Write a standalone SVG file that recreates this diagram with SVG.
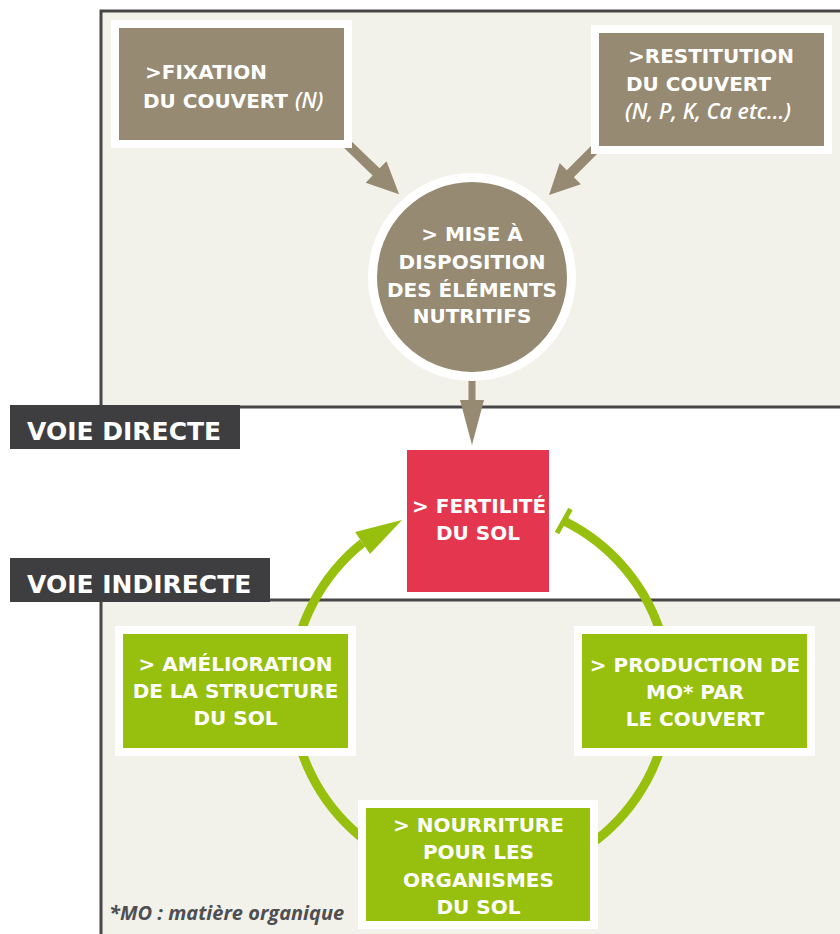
<svg xmlns="http://www.w3.org/2000/svg" width="840" height="934" viewBox="0 0 840 934">
<defs>
<style>
.panel{fill:#f2f1ea;stroke:#474747;stroke-width:3}
.lbl{fill:#3e3e40}
.lbltxt{font-family:"DejaVu Sans",sans-serif;font-weight:bold;font-size:25px;fill:#fff}
.t{font-family:"DejaVu Sans",sans-serif;font-weight:bold;font-size:20px;fill:#fff}
.c{text-anchor:middle}
.it{font-family:"Open Sans","Noto Sans",sans-serif;font-style:italic;font-weight:600;fill:#fff}
.brown{fill:#978a72;stroke:#fff;stroke-width:8}
.green{fill:#97bf0d;stroke:#fff;stroke-width:8}
.arr{fill:#978a72}
.garc{fill:none;stroke:#97bf0d;stroke-width:9}
.note{font-family:"Open Sans","Noto Sans",sans-serif;font-style:italic;font-weight:700;font-size:20px;fill:#4f4f52}
</style>
</defs>
<rect x="0" y="0" width="840" height="934" fill="#fff"/>
<g id="panels">
<rect class="panel" x="101" y="11" width="760" height="396"/>
<rect class="panel" x="101" y="600" width="760" height="400"/>
</g>
<g id="label-directe">
<rect class="lbl" x="10" y="405" width="230" height="44"/>
<text class="lbltxt" x="27" y="440">VOIE DIRECTE</text>
</g>
<g id="label-indirecte">
<rect class="lbl" x="10" y="558" width="260" height="44"/>
<text class="lbltxt" x="27" y="593">VOIE INDIRECTE</text>
</g>
<g id="connectors">
<path class="arr" transform="translate(343,140) rotate(44)" d="M0,-5 L46,-5 L46,-15 L78,0 L46,15 L46,5 L0,5 Z"/>
<path class="arr" transform="translate(600,144) rotate(135)" d="M0,-5 L42,-5 L42,-15 L72,0 L42,15 L42,5 L0,5 Z"/>
<path class="arr" d="M468.5,370 L475.5,370 L475.5,400 L484,400 L472,445 L460,400 L468.5,400 Z"/>
<path class="garc" d="M564,521 A189 189 0 1 1 362.5,543"/>
<polygon fill="#97bf0d" points="402,520 355,532 370,554"/>
<line x1="570.5" y1="509" x2="557" y2="533" stroke="#97bf0d" stroke-width="5"/>
</g>
<g id="fixation">
<rect class="brown" x="115" y="24" width="233" height="120"/>
<text class="t" x="145" y="79">&gt;FIXATION</text>
<text class="t" x="143" y="108">DU COUVERT <tspan class="it" font-size="21">(N)</tspan></text>
</g>
<g id="restitution">
<rect class="brown" x="595" y="29" width="233" height="121"/>
<text class="t" x="628" y="63">&gt;RESTITUTION</text>
<text class="t" x="626" y="91">DU COUVERT</text>
<text class="it" x="625" y="119" font-size="21.5">(N, P, K, Ca etc...)</text>
</g>
<g id="mise-a-disposition">
<circle cx="472" cy="277" r="99.5" fill="#978a72" stroke="#fff" stroke-width="9"/>
<text class="t c" x="472" y="241" font-size="19.5">&gt; MISE À</text>
<text class="t c" x="472" y="269" font-size="19.5">DISPOSITION</text>
<text class="t c" x="472" y="297" font-size="19.5">DES ÉLÉMENTS</text>
<text class="t c" x="472" y="323" font-size="19.5">NUTRITIFS</text>
</g>
<g id="fertilite">
<rect x="407" y="450" width="142" height="142" fill="#e5364f"/>
<text class="t" x="412" y="513">&gt; FERTILITÉ</text>
<text class="t c" x="478" y="540">DU SOL</text>
</g>
<g id="amelioration">
<rect class="green" x="119" y="630" width="233" height="122"/>
<text class="t c" x="235.5" y="671">&gt; AMÉLIORATION</text>
<text class="t c" x="235.5" y="698">DE LA STRUCTURE</text>
<text class="t c" x="235.5" y="725">DU SOL</text>
</g>
<g id="production">
<rect class="green" x="578" y="630" width="233" height="122"/>
<text class="t c" x="695" y="672">&gt; PRODUCTION DE</text>
<text class="t c" x="695" y="699">MO* PAR</text>
<text class="t c" x="695" y="726">LE COUVERT</text>
</g>
<g id="nourriture">
<rect class="green" x="362" y="804" width="232" height="121"/>
<text class="t c" x="478.5" y="832">&gt; NOURRITURE</text>
<text class="t c" x="478.5" y="859">POUR LES</text>
<text class="t c" x="478.5" y="887">ORGANISMES</text>
<text class="t c" x="478.5" y="914">DU SOL</text>
</g>
<g id="footnote">
<text class="note" x="109" y="920">*MO : matière organique</text>
</g>
</svg>
